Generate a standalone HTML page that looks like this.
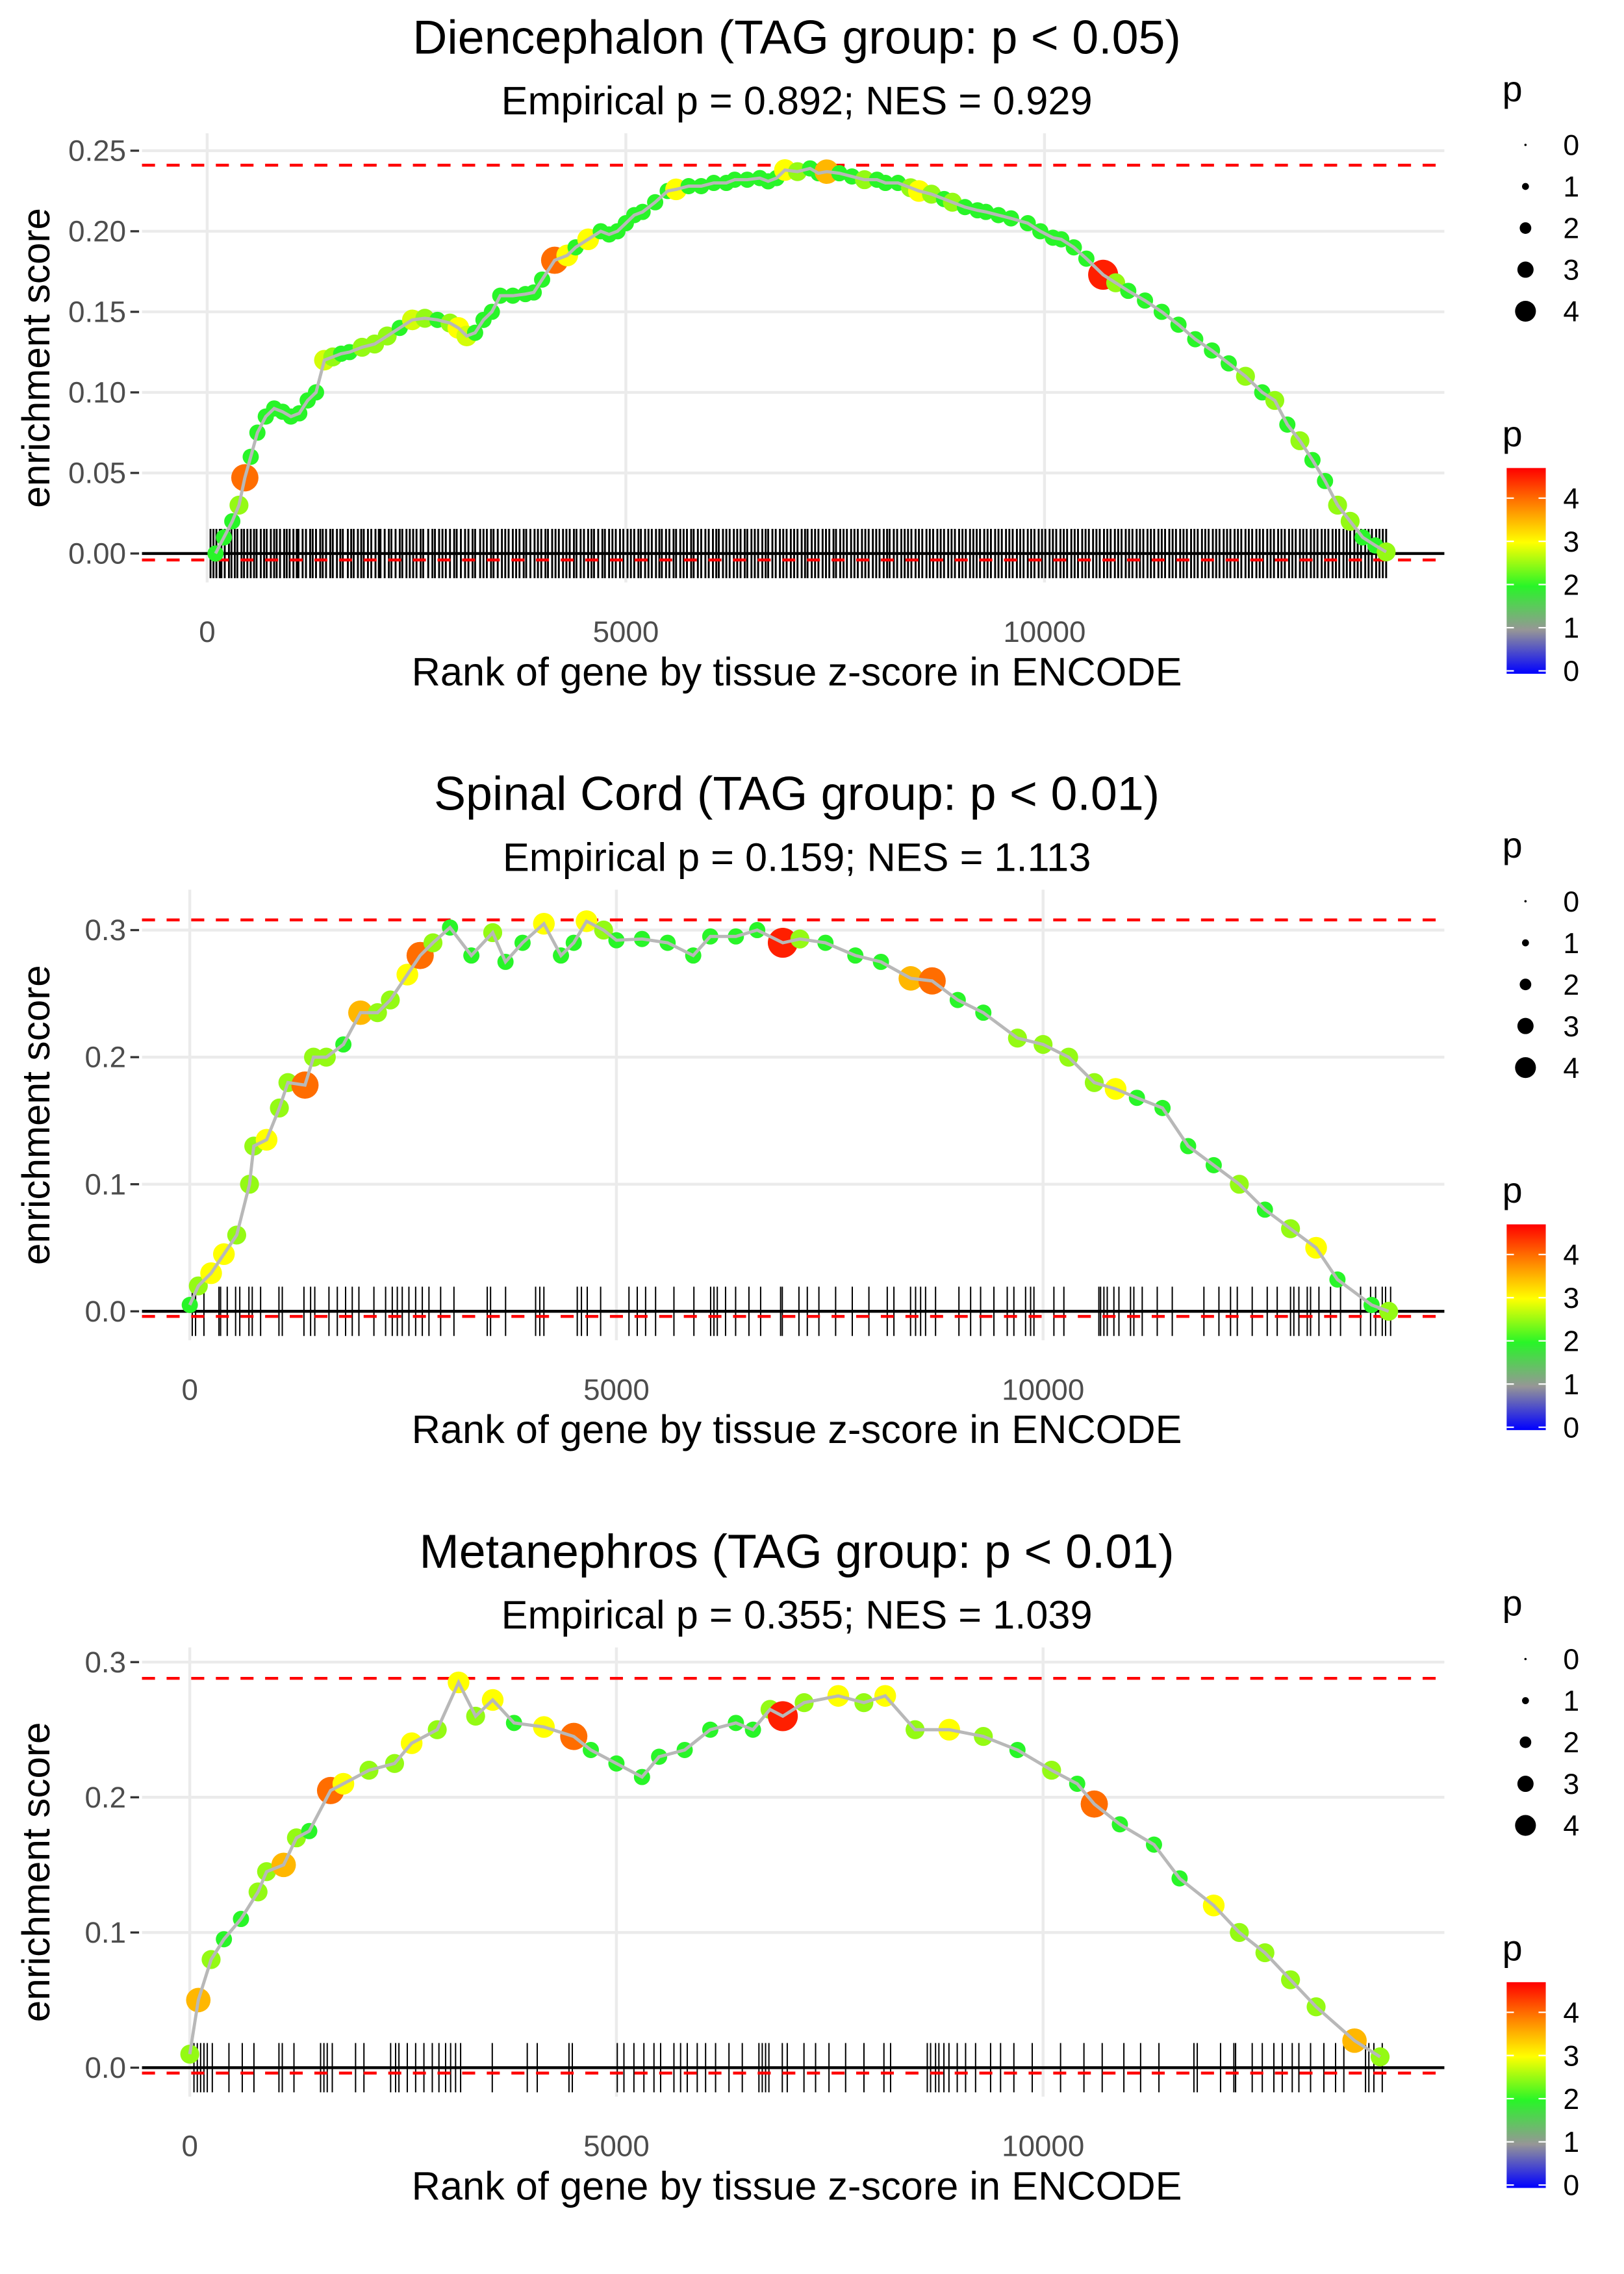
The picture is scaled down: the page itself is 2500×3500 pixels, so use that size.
<!DOCTYPE html>
<html><head><meta charset="utf-8"><style>
html,body{margin:0;padding:0;background:#fff}
svg{display:block}
text{font-family:"Liberation Sans",sans-serif}
</style></head><body>
<svg id="chart" width="2500" height="3500" viewBox="0 0 1121 1569.4" preserveAspectRatio="none" xmlns="http://www.w3.org/2000/svg"></svg>
<script>
// ---- Panel 1: Diencephalon ----
const p1Ranks=[100,200,300,380,450,520,600,700,800,900,1000,1100,1200,1300,1400,1500,1600,1700,1850,2000,2150,2300,2450,2600,2750,2900,3000,3100,3200,3300,3400,3500,3650,3800,3900,4000,4150,4300,4400,4550,4700,4800,4900,5000,5100,5200,5350,5500,5600,5750,5900,6050,6200,6300,6450,6600,6700,6800,6900,7050,7200,7300,7400,7550,7700,7850,8000,8100,8250,8400,8500,8650,8800,8900,9050,9200,9300,9450,9600,9800,9950,10100,10200,10350,10500,10700,10850,11000,11200,11400,11600,11800,12000,12200,12400,12600,12750,12900,13050,13200,13350,13500,13650,13800,13950,14080];
const p1ES=[0.0,0.01,0.02,0.03,0.047,0.06,0.075,0.085,0.09,0.088,0.085,0.087,0.095,0.1,0.12,0.122,0.124,0.125,0.128,0.13,0.135,0.14,0.145,0.146,0.145,0.143,0.14,0.135,0.137,0.145,0.15,0.16,0.16,0.161,0.162,0.17,0.182,0.185,0.19,0.195,0.2,0.198,0.2,0.205,0.21,0.212,0.218,0.225,0.226,0.228,0.228,0.23,0.23,0.232,0.232,0.233,0.231,0.233,0.238,0.237,0.239,0.236,0.237,0.236,0.234,0.232,0.232,0.23,0.23,0.227,0.225,0.223,0.22,0.218,0.215,0.213,0.212,0.21,0.208,0.205,0.2,0.196,0.195,0.19,0.183,0.173,0.168,0.163,0.157,0.15,0.142,0.133,0.126,0.118,0.11,0.1,0.095,0.08,0.07,0.058,0.045,0.03,0.02,0.01,0.005,0.001];
const p1P=[2,2,2,2.5,4,2,2,2,2,2,2,2,2,2,2.8,2.5,2,2,2.5,2.5,2.5,2,2.8,2.5,2,2.5,3,2.8,2,2,2,2,2,2,2,2,4,3,2,3,2,2,2,2,2,2,2,2,3,2,2,2,2,2,2,2,2,2,3,2.5,2,2,3.5,2,2,2.5,2,2,2,2.5,3,2.5,2,2.5,2,2,2,2,2,2,2,2,2,2,2,4.5,2.5,2,2,2,2,2,2,2,2.5,2,2.5,2,2.5,2,2,2.5,2.5,2,2,2.5];
const p1Rug=[40,75,110,150,170,210,260,290,330,360,410,440,480,520,560,590,640,680,710,760,800,830,870,920,950,985,
1030,1070,1090,1140,1180,1230,1260,1300,1350,1380,1420,1470,1500,1550,1590,1620,1680,1720,1750,1800,1840,1870,1920,1960,
2010,2050,2070,2120,2170,2200,2250,2300,2330,2380,2420,2460,2500,2550,2580,2640,2690,2720,2770,2810,2850,2900,2950,2980,
3030,3080,3120,3170,3200,3260,3300,3340,3390,3420,3470,3520,3560,3600,3650,3690,3730,3780,3810,3860,3910,3950,3990,
4040,4070,4120,4160,4200,4250,4290,4330,4380,4410,4460,4500,4550,4590,4620,4670,4720,4750,4800,4840,4880,4930,4970,
5020,5060,5100,5150,5180,5230,5270,5310,5360,5400,5430,5480,5520,5570,5600,5650,5690,5730,5780,5810,5860,5900,5950,5990,
6040,6080,6110,6160,6200,6240,6290,6330,6370,6420,6450,6500,6540,6580,6630,6670,6700,6750,6790,6840,6880,6920,6970,
7010,7050,7100,7140,7170,7220,7260,7300,7350,7390,7430,7480,7510,7560,7600,7640,7690,7730,7770,7820,7860,7900,7950,7990,
8030,8080,8120,8150,8200,8240,8290,8330,8370,8410,8460,8500,8540,8590,8630,8670,8720,8760,8800,8850,8890,8930,8980,
9020,9060,9110,9150,9190,9230,9280,9320,9360,9410,9450,9490,9540,9580,9620,9670,9710,9750,9800,9840,9880,9930,9970,
10010,10060,10100,10140,10190,10230,10270,10320,10360,10400,10450,10490,10530,10580,10620,10660,10710,10750,10790,10840,10880,10920,10970,
11010,11050,11100,11140,11180,11230,11270,11310,11360,11400,11440,11490,11530,11570,11620,11660,11700,11750,11790,11830,11880,11920,11960,
12010,12050,12090,12140,12180,12220,12270,12310,12350,12400,12440,12480,12530,12570,12610,12660,12700,12740,12790,12830,12870,12920,12960,
13000,13050,13090,13130,13180,13220,13260,13310,13350,13390,13440,13480,13520,13570,13610,13650,13700,13740,13780,13830,13870,13910,13960,14000,14040,14080];
// ---- Panel 2: Spinal Cord ----
const p2Ranks=[0,100,250,400,550,700,750,900,1050,1150,1350,1450,1600,1800,2000,2200,2350,2550,2700,2850,3050,3300,3550,3700,3900,4150,4350,4500,4650,4850,5000,5300,5600,5900,6100,6400,6650,6950,7150,7450,7800,8100,8450,8700,9000,9300,9700,10000,10300,10600,10850,11100,11400,11700,12000,12300,12600,12900,13200,13450,13850,14050];
const p2ES=[0.005,0.02,0.03,0.045,0.06,0.1,0.13,0.135,0.16,0.18,0.178,0.2,0.2,0.21,0.235,0.235,0.245,0.265,0.28,0.29,0.302,0.28,0.298,0.275,0.29,0.305,0.28,0.29,0.307,0.3,0.292,0.293,0.29,0.28,0.295,0.295,0.3,0.29,0.293,0.29,0.28,0.275,0.262,0.26,0.245,0.235,0.215,0.21,0.2,0.18,0.175,0.168,0.16,0.13,0.115,0.1,0.08,0.065,0.05,0.025,0.005,0.0];
const p2P=[2,2.5,3,3,2.5,2.5,2.5,3,2.5,2.5,4,2.5,2.5,2,3.5,2.5,2.5,3,4,2.5,2,2,2.5,2,2,3,2,2,3,2.5,2,2,2,2,2,2,2,4.5,2.5,2,2,2,3.5,4,2,2,2.5,2.5,2.5,2.5,3,2,2,2,2,2.5,2,2.5,3,2,2,2.5];
const p2Rug=[29,68,166,342,361,439,537,586,693,732,830,1045,1084,1338,1416,1465,1631,1729,1826,1904,1982,2158,2295,2373,2432,2490,2568,2647,2725,2803,2940,3096,3486,3525,3701,4053,4102,4150,4541,4590,4658,4815,5147,5244,5342,5459,5674,5908,6104,6143,6182,6279,6397,6553,6690,6924,6944,7139,7237,7373,7569,7764,7959,8174,8252,8447,8506,8565,8623,8740,9014,9151,9268,9424,9580,9658,9795,9854,9893,10127,10244,10654,10674,10713,10752,10830,10889,11025,11064,11162,11338,11514,11885,12061,12197,12276,12451,12627,12744,12900,12939,12998,13096,13135,13233,13369,13486,13721,13838,13897,13975,14014,14073];
// ---- Panel 3: Metanephros ----
const p3Ranks=[0,100,250,400,600,800,900,1100,1250,1400,1650,1800,2100,2400,2600,2900,3150,3350,3550,3800,4150,4500,4700,5000,5300,5500,5800,6100,6400,6600,6800,6950,7200,7600,7900,8150,8500,8900,9300,9700,10100,10400,10600,10900,11300,11600,12000,12300,12600,12900,13200,13650,13950];
const p3ES=[0.01,0.05,0.08,0.095,0.11,0.13,0.145,0.15,0.17,0.175,0.205,0.21,0.22,0.225,0.24,0.25,0.285,0.26,0.272,0.255,0.252,0.245,0.235,0.225,0.215,0.23,0.235,0.25,0.255,0.25,0.265,0.26,0.27,0.275,0.27,0.275,0.25,0.25,0.245,0.235,0.22,0.21,0.195,0.18,0.165,0.14,0.12,0.1,0.085,0.065,0.045,0.02,0.008];
const p3P=[2.5,3.5,2.5,2,2,2.5,2.5,3.5,2.5,2,4,3,2.5,2.5,3,2.5,3,2.5,3,2,3,4,2,2,2,2,2,2,2,2,2.5,4.5,2.5,3,2.5,3,2.5,3,2.5,2,2.5,2,4,2,2,2,3,2.5,2.5,2.5,2.5,3.5,2.5];
const p3Rug=[49,88,127,166,205,264,459,615,752,1045,1084,1221,1533,1572,1611,1670,1943,2041,2354,2412,2451,2549,2647,2744,2842,2920,2998,3057,3115,3174,3545,3955,4072,4444,4483,5010,5088,5205,5322,5440,5518,5674,5752,5830,5947,6045,6162,6319,6475,6670,6709,6748,6787,6944,7002,7198,7334,7491,7686,7901,8135,8213,8643,8682,8740,8779,8838,8897,8994,9092,9209,9385,9502,9658,9873,10205,10479,10693,10947,11143,11358,11768,11807,12080,12236,12256,12451,12569,12705,12803,12920,12998,13135,13291,13428,13525,13779,13818,13877,13975];
// ---- Ticks / labels ----
const p1YTicks=[0,0.05,0.10,0.15,0.20,0.25];
const p1YLabels=["0.00","0.05","0.10","0.15","0.20","0.25"];
const p23YTicks=[0,0.1,0.2,0.3];
const p23YLabels=["0.0","0.1","0.2","0.3"];
const xTicks=[0,5000,10000];
const xLabels=["0","5000","10000"];
const legendVals=[0,1,2,3,4];
const titles=["Diencephalon (TAG group: p < 0.05)","Spinal Cord (TAG group: p < 0.01)","Metanephros (TAG group: p < 0.01)"];
const subtitles=["Empirical p = 0.892; NES = 0.929","Empirical p = 0.159; NES = 1.113","Empirical p = 0.355; NES = 1.039"];
const maxES=[0.241,0.308,0.288];

const NS="http://www.w3.org/2000/svg";
const svg=document.getElementById('chart');
function mk(tag,attrs,parent){const e=document.createElementNS(NS,tag);for(const k in attrs)e.setAttribute(k,attrs[k]);(parent||svg).appendChild(e);return e;}
function col(p){
  const st=[[0,[0,0,255]],[1,[150,150,150]],[2,[40,245,40]],[3,[255,255,0]],[3.8,[255,140,0]],[4.7,[255,0,0]]];
  if(p<=0)return 'rgb(0,0,255)';
  for(let i=1;i<st.length;i++){if(p<=st[i][0]){const a=st[i-1],b=st[i];const t=(p-a[0])/(b[0]-a[0]);const c=a[1].map((v,j)=>Math.round(v+(b[1][j]-v)*t));return `rgb(${c})`;}}
  return 'rgb(255,0,0)';
}
function rad(p){return 1.8+p*1.9;}
function lrad(p){return 0.8+p*1.6;}

const panels=[
 {ranks:p1Ranks,es:p1ES,p:p1P,rug:p1Rug,yT:p1YTicks,yL:p1YLabels,off:0,x0:143,xk:289/5000,y0:382,yk:55.6/0.05},
 {ranks:p2Ranks,es:p2ES,p:p2P,rug:p2Rug,yT:p23YTicks,yL:p23YLabels,off:522,x0:131,xk:294.5/5000,y0:905,yk:87.7/0.1},
 {ranks:p3Ranks,es:p3ES,p:p3P,rug:p3Rug,yT:p23YTicks,yL:p23YLabels,off:1045,x0:131,xk:294.5/5000,y0:1427,yk:93.3/0.1}
];
const PL=98,PR=997;
panels.forEach((P,i)=>{
  const X=r=>P.x0+r*P.xk, Y=v=>P.y0-v*P.yk;
  const g=mk('g',{});
  
  
  const off=P.off;
  const t=mk('text',{x:550,y:37+off,'font-size':33,'text-anchor':'middle',fill:'#000'},g);t.textContent=titles[i];
  
  const s=mk('text',{x:550,y:79+off,'font-size':27.5,'text-anchor':'middle',fill:'#000'},g);s.textContent=subtitles[i];
  
  const top=P.off+92, bot=P.y0+20;
  P.yT.forEach((v,k)=>{
    const gl=mk('line',{x1:PL,x2:PR,y1:Y(v),y2:Y(v),stroke:'#ebebeb','stroke-width':2},g);
    
    const tk=mk('line',{x1:90,x2:96,y1:Y(v),y2:Y(v),stroke:'#333','stroke-width':1.5},g);
    
    const tl=mk('text',{x:87,y:Y(v)+7,'font-size':20.5,'text-anchor':'end',fill:'#4d4d4d'},g);tl.textContent=P.yL[k];
    
  });
  xTicks.forEach((v,k)=>{
    const gl=mk('line',{x1:X(v),x2:X(v),y1:top,y2:bot,stroke:'#ebebeb','stroke-width':2},g);
    
    const tl=mk('text',{x:X(v),y:bot+41,'font-size':20.5,'text-anchor':'middle',fill:'#4d4d4d'},g);tl.textContent=xLabels[k];
    
  });
  P.rug.forEach(r=>{
    const l=mk('line',{x1:X(r),x2:X(r),y1:P.y0-17,y2:P.y0+17,stroke:'#000','stroke-width':i===0?1.3:0.9},g);
    
  });
  const z=mk('line',{x1:PL,x2:PR,y1:Y(0),y2:Y(0),stroke:'#000','stroke-width':2},g);
  
  [maxES[i],-0.004].forEach(v=>{
    const d=mk('line',{x1:PL,x2:PR,y1:Y(v),y2:Y(v),stroke:'#ff0000','stroke-width':2,'stroke-dasharray':'9 8'},g);
    
  });
  P.ranks.forEach((r,k)=>{
    const c=mk('circle',{cx:X(r),cy:Y(P.es[k]),r:rad(P.p[k]),fill:col(P.p[k])},g);
    
  });
  const line=mk('polyline',{points:P.ranks.map((r,k)=>X(r)+','+Y(P.es[k])).join(' '),fill:'none',stroke:'#b8b8b8','stroke-width':2.2},g);
  
  const xt=mk('text',{x:550,y:bot+71,'font-size':27.5,'text-anchor':'middle',fill:'#000'},g);xt.textContent='Rank of gene by tissue z-score in ENCODE';
  
  const ym=(top+bot)/2;
  const yt=mk('text',{x:0,y:0,'font-size':27,'text-anchor':'middle',fill:'#000',transform:`translate(34,${ym}) rotate(-90)`},g);yt.textContent='enrichment score';
  
  const lt=mk('text',{x:1037,y:70+off,'font-size':25,fill:'#000'},g);lt.textContent='p';
  
  legendVals.forEach((v,k)=>{
    const yy=100+off+k*28.7;
    const c=mk('circle',{cx:1053,cy:yy,r:lrad(v),fill:'#000'},g);
    
    const tl=mk('text',{x:1079,y:yy+7,'font-size':20,fill:'#000'},g);tl.textContent=v;
    
  });
  const ct=mk('text',{x:1037,y:308+off,'font-size':25,fill:'#000'},g);ct.textContent='p';
  
  const gid='grad'+i;
  const defs=mk('defs',{},g);const lg=mk('linearGradient',{id:gid,x1:0,y1:1,x2:0,y2:0},defs);
  [0,0.5,1,1.5,2,2.5,3,3.5,4,4.7].forEach(v=>mk('stop',{offset:v/4.7,'stop-color':col(v)},lg));
  const rect=mk('rect',{x:1040,y:323+off,width:27,height:142,fill:`url(#${gid})`},g);
  
  legendVals.forEach(v=>{
    const yy=463+off-v*29.8;
    mk('line',{x1:1040,x2:1045,y1:yy,y2:yy,stroke:'#fff','stroke-width':1},g);
    mk('line',{x1:1062,x2:1067,y1:yy,y2:yy,stroke:'#fff','stroke-width':1},g);
    const tl=mk('text',{x:1079,y:yy+7,'font-size':20,fill:'#000'},g);tl.textContent=v;
    
  });
});
</script>
</body></html>
